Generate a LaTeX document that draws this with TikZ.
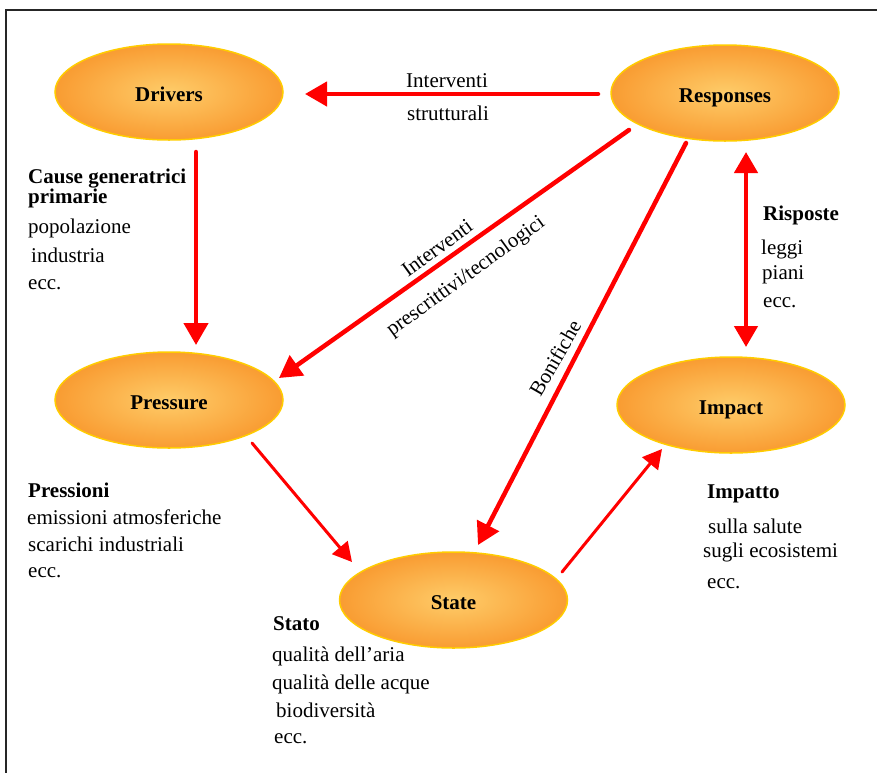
\documentclass[tikz,border=0pt]{standalone}
\usepackage{fontspec}
\setmainfont{Liberation Serif}
\usetikzlibrary{arrows.meta,shapes.geometric}
\definecolor{ellin}{RGB}{254,204,105}
\definecolor{ellout}{RGB}{249,156,50}
\definecolor{ellborder}{RGB}{255,204,0}
\definecolor{arrred}{RGB}{255,0,0}
\tikzset{
  ell/.style={ellipse, draw=ellborder, line width=1.5pt, inner color=ellin, outer color=ellout,
    minimum width=228pt, minimum height=96pt, inner sep=0pt, text height=18pt, text depth=0pt,
    font=\fontsize{21}{25}\selectfont\bfseries},
  txt/.style={anchor=base west, inner sep=0pt, font=\fontsize{21}{25}\selectfont},
  btxt/.style={txt, font=\fontsize{21}{25}\selectfont\bfseries},
  rtxt/.style={inner sep=0pt, font=\fontsize{21}{25}\selectfont},
  thickarr/.style={draw=arrred, line width=4.5pt, line cap=round, -{Triangle[length=22pt,width=24pt]}},
  dblarr/.style={draw=arrred, line width=4.5pt, {Triangle[length=21pt,width=23pt]}-{Triangle[length=21pt,width=23pt]}},
  thinarr/.style={draw=arrred, line width=3pt, line cap=round, -{Triangle[length=19pt,width=20pt]}}
}
\begin{document}
\begin{tikzpicture}[x=1pt,y=-1pt]
\useasboundingbox (0,0) rectangle (877,772);
% frame
\draw[line width=2pt, color=black!85] (6,790) -- (6,10) -- (890,10);

% ellipses
\node[ell] (drivers) at (169,92) {Drivers};
\node[ell] (responses) at (725,93) {Responses};
\node[ell] (pressure) at (169,400) {Pressure};
\node[ell] (impact) at (731,405) {Impact};
\node[ell] (state) at (453.5,600) {State};

% arrow end points
\coordinate (rdA) at (598,94);   \coordinate (rdB) at (305,94);
\coordinate (dpA) at (196,152);  \coordinate (dpB) at (196,345);
\coordinate (rpA) at (629,130);  \coordinate (rpB) at (279,378);
\coordinate (rsA) at (686,143);  \coordinate (rsB) at (478,545);
\coordinate (psA) at (252,443);  \coordinate (psB) at (352,562);
\coordinate (siA) at (562,572);  \coordinate (siB) at (662,449);
\coordinate (riA) at (746,152);  \coordinate (riB) at (746,347);

\draw[thickarr] (rdA) -- (rdB);
\draw[thickarr] (dpA) -- (dpB);
\draw[thickarr] (rpA) -- (rpB);
\draw[thickarr] (rsA) -- (rsB);
\draw[thinarr] (psA) -- (psB);
\draw[thinarr] (siA) -- (siB);
\draw[dblarr] (riA) -- (riB);

% connector labels
\node[txt] (l1) at (406,87) {Interventi};
\node[txt] (l2) at (407,120) {strutturali};
\node[rtxt, rotate=36] (l3) at (437,248) {Interventi};
\node[rtxt, rotate=36] (l4) at (466,277) {prescrittivi/tecnologici};
\node[rtxt, rotate=60] (l5) at (555,358) {Bonifiche};

% Drivers block
\node[btxt] (c1) at (28,183) {Cause generatrici};
\node[btxt] (c2) at (28,203) {primarie};
\node[txt] (c3) at (28,233) {popolazione};
\node[txt] (c4) at (31,262) {industria};
\node[txt] (c5) at (28,289) {ecc.};

% Pressioni block
\node[btxt] (p1) at (28,497) {Pressioni};
\node[txt] (p2) at (27,524) {emissioni atmosferiche};
\node[txt] (p3) at (28,551) {scarichi industriali};
\node[txt] (p4) at (28,577) {ecc.};

% Stato block
\node[btxt] (s1) at (273,630) {Stato};
\node[txt] (s2) at (272,661) {qualità dell{\char"27}aria};
\node[txt] (s3) at (272,689) {qualità delle acque};
\node[txt] (s4) at (276,717) {biodiversità};
\node[txt] (s5) at (274,743) {ecc.};

% Impatto block
\node[btxt] (i1) at (707,498) {Impatto};
\node[txt] (i2) at (708,533) {sulla salute};
\node[txt] (i3) at (703,557) {sugli ecosistemi};
\node[txt] (i4) at (707,588) {ecc.};

% Risposte block
\node[btxt] (r1) at (763,220) {Risposte};
\node[txt] (r2) at (761,254) {leggi};
\node[txt] (r3) at (762,279) {piani};
\node[txt] (r4) at (763,307) {ecc.};
\end{tikzpicture}
\end{document}
